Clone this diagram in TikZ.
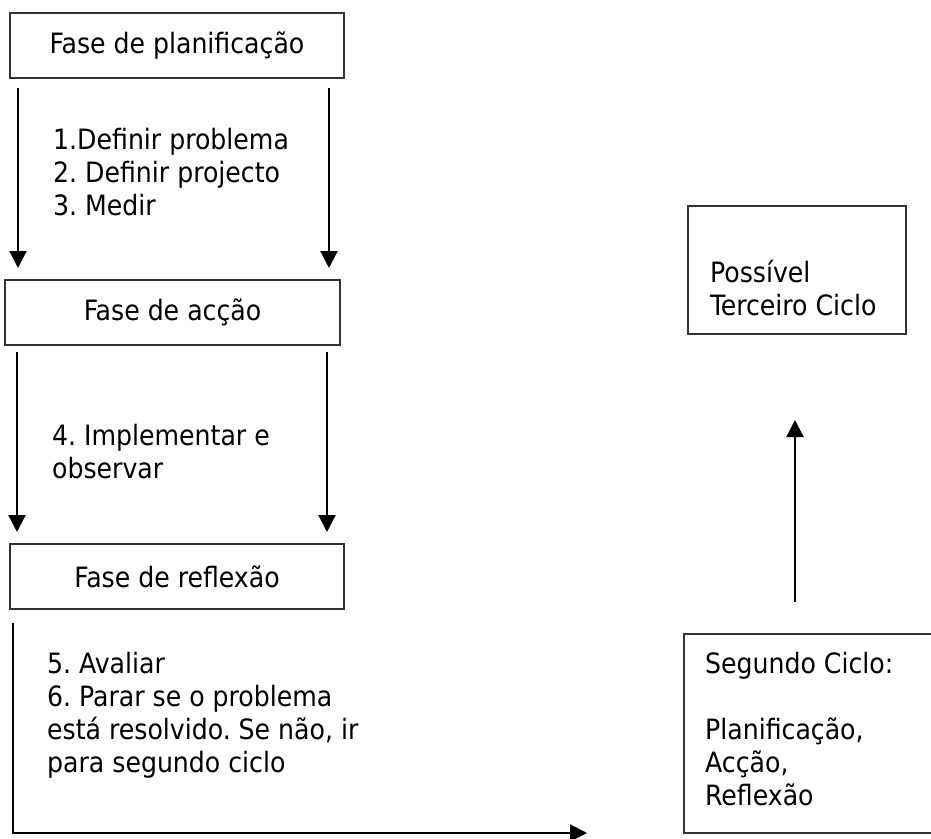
\documentclass[tikz,border=0pt]{standalone}
\usepackage{fontspec}
\setmainfont{DejaVu Sans Condensed}
\frenchspacing
\usetikzlibrary{arrows.meta}

\tikzset{
	phase/.style={draw=black!80, line width=2pt, anchor=north west, inner sep=0pt, minimum width=334pt, minimum height=65pt},
	ciclobox/.style={draw=black!80, line width=2pt, anchor=north west, inner sep=0pt},
	steps/.style={anchor=base west, align=left, inner sep=0pt},
	flow/.style={line width=2.2pt, -{Triangle[width=17pt, length=17pt]}}
}

\begin{document}
\begin{tikzpicture}[x=1pt, y=-1pt, font=\fontsize{28pt}{33pt}\selectfont]
	
	\useasboundingbox (0,0) rectangle (931,838);
	\clip (0,0) rectangle (931,838);
	
	%% PHASES
	\node[phase] (plan) at (9,12) {Fase de planificação};
	\node[phase, minimum width=335pt] (accao) at (4,279) {Fase de acção};
	\node[phase] (reflexao) at (9,543) {Fase de reflexão};
	
	% Steps (base = last line)
	\node[steps] (passo13) at (53,215) {1.Definir problema\\2. Definir projecto\\3. Medir};
	\node[steps] (passo4) at (52,478) {4. Implementar e\\observar};
	\node[steps] (passo56) at (47,772) {5. Avaliar\\6. Parar se o problema\\está resolvido. Se não, ir\\para segundo ciclo};
	
	% Arrows
	\coordinate (p1) at (18,88);   \coordinate (p2) at (18,268);
	\coordinate (p3) at (329,88);  \coordinate (p4) at (329,268);
	\coordinate (a1) at (17,352);  \coordinate (a2) at (17,532);
	\coordinate (a3) at (327,352); \coordinate (a4) at (327,532);
	\coordinate (r1) at (13,623);  \coordinate (r2) at (587,833);
	\draw[flow] (p1) -- (p2);
	\draw[flow] (p3) -- (p4);
	\draw[flow] (a1) -- (a2);
	\draw[flow] (a3) -- (a4);
	\draw[flow] (r1) |- (r2);
	
	%% CYCLES
	\node[ciclobox, minimum width=218pt, minimum height=128pt] (terceiro) at (687,205) {};
	\node[steps] (terceirotxt) at (710,315) {Possível\\Terceiro Ciclo};
	
	\node[ciclobox, minimum width=270pt, minimum height=199pt] (segundo) at (683,633) {};
	\node[steps] (segundotxt) at (705,805) {Segundo Ciclo:\\[33pt]Planificação,\\Acção,\\Reflexão};
	
	% Next cycle
	\coordinate (u1) at (795,602); \coordinate (u2) at (795,420);
	\draw[flow] (u1) -- (u2);
	
\end{tikzpicture}
\end{document}
